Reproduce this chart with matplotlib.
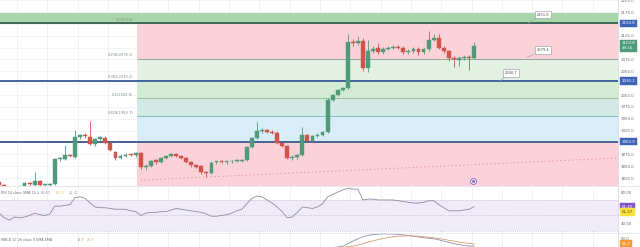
import matplotlib
matplotlib.use("Agg")
import matplotlib.pyplot as plt
from matplotlib.transforms import blended_transform_factory, offset_copy

# ---- price data (4h candles) ----
opens = [1817, 1810, 1801, 1796, 1802, 1807, 1814, 1810, 1818, 1810,
         1811, 1812, 1865, 1866, 1873, 1870, 1912, 1915, 1911, 1897,
         1908, 1909, 1899, 1880, 1868, 1872, 1874, 1874, 1877, 1848,
         1851, 1863, 1858, 1868, 1872, 1875, 1871, 1868, 1858, 1852,
         1850, 1837, 1836, 1858, 1860, 1859, 1860, 1861, 1862, 1864,
         1891, 1910, 1925, 1926, 1923, 1920, 1899, 1893, 1868, 1870,
         1873, 1915, 1904, 1914, 1916, 1922, 1990, 2000, 2011, 2014,
         2111, 2109, 2114, 2058, 2092, 2100, 2091, 2098, 2100, 2101,
         2100, 2090, 2093, 2098, 2090, 2096, 2117, 2120, 2099, 2092,
         2078, 2074, 2079, 2080, 2079]
highs = [1820, 1812, 1804, 1804, 1810, 1816, 1817, 1838, 1821, 1813,
         1814, 1868, 1870, 1895, 1876, 1927, 1918, 1919, 1945, 1910,
         1914, 1913, 1902, 1882, 1876, 1877, 1878, 1880, 1879, 1854,
         1864, 1866, 1870, 1874, 1877, 1878, 1874, 1870, 1861, 1855,
         1852, 1840, 1860, 1862, 1863, 1862, 1864, 1865, 1866, 1893,
         1912, 1944, 1930, 1929, 1926, 1924, 1902, 1895, 1874, 1876,
         1933, 1918, 1916, 1919, 1925, 1993, 2003, 2013, 2017, 2128,
         2118, 2125, 2120, 2117, 2103, 2110, 2101, 2104, 2105, 2105,
         2103, 2096, 2101, 2101, 2099, 2134, 2128, 2128, 2103, 2095,
         2083, 2082, 2084, 2085, 2111]
lows = [1808, 1798, 1792, 1793, 1799, 1805, 1809, 1807, 1808, 1806,
        1807, 1810, 1861, 1864, 1869, 1868, 1908, 1910, 1894, 1893,
        1905, 1896, 1882, 1864, 1865, 1869, 1871, 1870, 1845, 1843,
        1849, 1855, 1856, 1866, 1869, 1869, 1866, 1856, 1849, 1847,
        1834, 1827, 1834, 1854, 1856, 1855, 1857, 1858, 1859, 1862,
        1888, 1908, 1920, 1920, 1917, 1897, 1890, 1866, 1863, 1866,
        1871, 1901, 1902, 1911, 1913, 1920, 1987, 1997, 2008, 2012,
        2104, 2106, 2050, 2048, 2088, 2087, 2087, 2094, 2096, 2096,
        2087, 2086, 2089, 2085, 2086, 2093, 2113, 2097, 2089, 2071,
        2060, 2062, 2073, 2052, 2076]
closes = [1810, 1801, 1796, 1802, 1807, 1814, 1812, 1819, 1810, 1811,
          1812, 1865, 1867, 1874, 1872, 1912, 1915, 1913, 1897, 1907,
          1911, 1899, 1884, 1867, 1872, 1874, 1873, 1877, 1848, 1851,
          1862, 1858, 1868, 1872, 1875, 1871, 1868, 1858, 1852, 1849,
          1837, 1835, 1857, 1860, 1859, 1860, 1861, 1862, 1864, 1891,
          1910, 1925, 1926, 1923, 1920, 1899, 1893, 1868, 1870, 1873,
          1915, 1904, 1914, 1916, 1922, 1990, 2000, 2011, 2014, 2111,
          2109, 2113, 2058, 2092, 2097, 2090, 2098, 2100, 2101, 2100,
          2090, 2093, 2098, 2090, 2096, 2117, 2121, 2100, 2092, 2079,
          2075, 2079, 2080, 2078, 2103.8]

# ---- RSI (14) ----
rsi = [53, 47, 44, 48, 47, 48, 50, 53, 51, 50,
       52, 62, 62, 63, 64, 73, 74, 72, 66, 61,
       60, 60, 59, 58, 58, 58, 56, 55, 50, 53,
       54, 54, 55, 55, 57, 59, 58, 57, 56, 55,
       54, 52, 49, 49, 50, 51, 53, 56, 58, 65,
       72, 75, 74, 70, 66, 61, 55, 47, 48, 54,
       61, 60, 59, 61, 65, 74, 77, 80, 83, 85,
       84, 84, 70, 71, 71, 70, 70, 70, 70, 69,
       68, 67, 66, 66, 67, 69, 69, 64, 60, 56,
       56, 56, 57, 58, 61.4]
rsi_ma_last = 61.27

# ---- MACD (12, 26, 9), visible tail only ----
macd_start = 64
macd_line = [2, 8, 12, 15, 18, 27, 38, 47, 55, 60, 63, 65, 66, 66, 65.5,
             64, 62, 60, 57, 54, 51, 49, 47, 43, 38, 33, 28, 24, 21, 19, 18.7]
signal_line = [-8, -2, 4, 9, 13, 16, 18, 22, 28, 34, 39, 44, 48, 52, 55,
               57, 58, 58.5, 58, 57, 55, 53, 51, 48, 45, 41, 38, 34, 31, 29, 26.7]

# ---- drawings ----
fib_ratios = ["0", "0.236", "0.382", "0.5", "0.618", "0.786"]
fib_prices = [2150.8, 2076.3, 2030.2, 1992.9, 1955.7, 1902.0]
fib_fills = ["#fbd2d9", "#e2f1e1", "#d3ebd3", "#d2e9e6", "#d9edf9"]
fib_start = 27.3
top_band = (2150.8, 2172.5)
h_lines = [2150.8, 2030.2, 1902.0]
h_line_colors = ["#3f6659", "#4563a0", "#46628f"]
trend_x = [28, 122.5]
trend_y = [1820.8, 1867.4]
notes = [("2151.8", 104.7, 2151.8, 107.6, 2169.5),
         ("2079.4", 104.5, 2079.4, 107.6, 2095.0),
         ("2056.7", 99.1, 2029.5, 101.3, 2046.5)]
price_ticks = [2200, 2175, 2125, 2075, 2050, 2000, 1975, 1950, 1925, 1875, 1850, 1825]

GREEN = "#4e9a7a"
RED = "#d0544a"
AXIS_TXT = "#6a6d78"
GRID = "#eef0f4"

W, H = 640, 247
fig = plt.figure(figsize=(W / 100, H / 100), dpi=100)
fig.patch.set_facecolor("white")
pane_w = 618 / W
ax = fig.add_axes([0, 1 - 186 / H, pane_w, 186 / H])
ax_rsi = fig.add_axes([0, 14 / H, pane_w, 47 / H])
ax_macd = fig.add_axes([0, 0, pane_w, 14 / H])

x_lo, x_hi = 0.14, 122.5
n = len(opens)
xs = list(range(n))

for a in (ax, ax_rsi, ax_macd):
    a.set_xlim(x_lo, x_hi)
    a.set_xticks([])
    for s in ("top", "left", "bottom"):
        a.spines[s].set_visible(False)
    a.spines["right"].set_color("#d6d9e0")
    a.spines["right"].set_linewidth(0.6)
    a.yaxis.tick_right()
    a.tick_params(axis="y", length=0, pad=2.2, labelsize=2.9, labelcolor=AXIS_TXT)
    k = 3.5
    while k < x_hi:
        a.axvline(k, color=GRID, lw=0.6, zorder=0)
        k += 6

# ---------------- price pane ----------------
ax.set_ylim(1808.3, 2200.3)
for p in range(1825, 2201, 25):
    ax.axhline(p, color=GRID, lw=0.5, zorder=0)

ax.axhspan(top_band[0], top_band[1], color="#a9d6a9", lw=0, zorder=1)
for i in range(len(fib_prices) - 1):
    ax.fill_between([fib_start, x_hi], fib_prices[i + 1], fib_prices[i],
                    color=fib_fills[i], lw=0, zorder=1)
ax.fill_between([fib_start, x_hi], 1700, fib_prices[-1], color="#fbd2d9", lw=0, zorder=1)
ax.hlines([fib_prices[1], fib_prices[3], fib_prices[4]], fib_start, x_hi,
          colors=["#8fa596", "#8fc293", "#86bccb"], lw=0.7, zorder=2)
for r, p in zip(fib_ratios[:5], fib_prices[:5]):
    ax.text(fib_start - 0.8, p + 3, f"{r}({p:.1f})", ha="right", va="bottom",
            fontsize=2.6, color="#7c8e86", zorder=3)

for p, c in zip(h_lines, h_line_colors):
    ax.axhline(p, color=c, lw=1.4, zorder=3)

ax.plot(trend_x, trend_y, color="#e59a9a", lw=0.7, ls=(0, (1.5, 2.5)), zorder=3)

# candles
for i in xs:
    o, h, l, c = opens[i], highs[i], lows[i], closes[i]
    col = GREEN if c >= o else RED
    ax.vlines(i, l, h, color=col, lw=0.6, zorder=4)
    lo, hi = min(o, c), max(o, c)
    if hi - lo < 1.8:
        hi = lo + 1.8
    ax.bar(i, hi - lo, bottom=lo, width=0.76, color=col, edgecolor=col,
           lw=0.3, zorder=5)

# price notes
for txt, px, py, tx, ty in notes:
    ax.annotate(txt, xy=(px, py), xytext=(tx, ty), fontsize=2.6, color="#4a4d57",
                ha="center", va="center", zorder=6,
                bbox=dict(boxstyle="square,pad=0.45", fc="white", ec="#a3a7b0", lw=0.5),
                arrowprops=dict(arrowstyle="-", color="#a3a7b0", lw=0.5,
                                shrinkA=0, shrinkB=0))

# alert marker
ax.plot([93.8], [1818.8], marker="o", ms=4.2, mfc="white", mec="#8b6cc6", mew=0.7, zorder=6)
ax.plot([93.8], [1818.8], marker="o", ms=1.2, color="#8b6cc6", zorder=7)

ax.set_yticks(price_ticks)
ax.set_yticklabels([f"{p:.1f}" for p in price_ticks])

tr = blended_transform_factory(ax.transAxes, ax.transData)
def axis_box(a, trans, y, txt, fc, tc="white", dy=0):
    t = offset_copy(trans, fig=fig, x=0, y=dy, units="points")
    a.text(1.0 + 3.5 / 618, y, txt, transform=t, ha="left", va="center",
           fontsize=2.9, color=tc, zorder=10, clip_on=False,
           bbox=dict(boxstyle="square,pad=0.45", fc=fc, ec=fc, lw=0.3))

axis_box(ax, tr, 2150.8, "2150.8", "#3d63b8")
axis_box(ax, tr, 2030.2, "2030.2", "#3d63b8")
axis_box(ax, tr, 1902.0, "1902.0", "#3d63b8")
axis_box(ax, tr, closes[-1], f"{closes[-1]:.1f}\n49:16", "#4e9a7a")

# ---------------- RSI pane ----------------
ax_rsi.set_ylim(27.4, 88.0)
ax_rsi.fill_between([x_lo, x_hi], 30, 70, color="#efebf8", lw=0, zorder=0)
for lvl in (70, 50, 30):
    ax_rsi.axhline(lvl, color="#b6b3c4", lw=0.5, ls=(0, (1.2, 1.8)), zorder=1)
ax_rsi.plot(xs, rsi, color="#8f8aa3", lw=0.6, zorder=3)
ax_rsi.set_yticks([80, 40])
ax_rsi.set_yticklabels(["80.00", "40.00"])
tr_r = blended_transform_factory(ax_rsi.transAxes, ax_rsi.transData)
axis_box(ax_rsi, tr_r, rsi[-1], f"{rsi[-1]:.2f}", "#7e57c2")
axis_box(ax_rsi, tr_r, rsi_ma_last, f"{rsi_ma_last:.2f}", "#f5e23a", tc="#5a5200", dy=-3.8)
ax_rsi.text(0.002, 0.86, "RSI 14 close SMA 14 2", transform=ax_rsi.transAxes,
            fontsize=2.4, color=AXIS_TXT, va="center")
ax_rsi.text(0.066, 0.86, f"{rsi[-1]:.2f}", transform=ax_rsi.transAxes,
            fontsize=2.4, color="#8a7fb8", va="center")
ax_rsi.text(0.090, 0.86, f"{rsi_ma_last:.2f}", transform=ax_rsi.transAxes,
            fontsize=2.4, color="#e2c84a", va="center")
ax_rsi.text(0.112, 0.86, "\u2205  \u2205", transform=ax_rsi.transAxes,
            fontsize=2.4, color=AXIS_TXT, va="center")

# ---------------- MACD pane ----------------
ax_macd.set_ylim(14.9, 69.5)
mx = list(range(macd_start, macd_start + len(macd_line)))
ax_macd.plot(mx, macd_line, color="#8d8ea6", lw=0.6, zorder=3)
ax_macd.plot(mx, signal_line, color="#d49c72", lw=0.6, zorder=3)
ax_macd.set_yticks([50])
ax_macd.set_yticklabels(["50.0"])
tr_m = blended_transform_factory(ax_macd.transAxes, ax_macd.transData)
axis_box(ax_macd, tr_m, signal_line[-1], f"{signal_line[-1]:.1f}", "#f39a33")
ax_macd.text(0.002, 0.5, "MACD 12 26 close 9 EMA EMA", transform=ax_macd.transAxes,
             fontsize=2.4, color=AXIS_TXT, va="center")
ax_macd.text(0.110, 0.5, "\u2014", transform=ax_macd.transAxes,
             fontsize=2.4, color="#e8c9a0", va="center")
ax_macd.text(0.124, 0.5, f"{macd_line[-1]:.1f}", transform=ax_macd.transAxes,
             fontsize=2.4, color="#8a8fb0", va="center")
ax_macd.text(0.141, 0.5, f"{signal_line[-1]:.1f}", transform=ax_macd.transAxes,
             fontsize=2.4, color="#e8a060", va="center")

# pane separators
for yy in (1 - 186 / H, 61 / H, 14 / H):
    fig.add_artist(plt.Line2D([0, 1], [yy, yy], color="#e2e4ea", lw=0.5))

fig.savefig("out.png", dpi=100, facecolor="white")
